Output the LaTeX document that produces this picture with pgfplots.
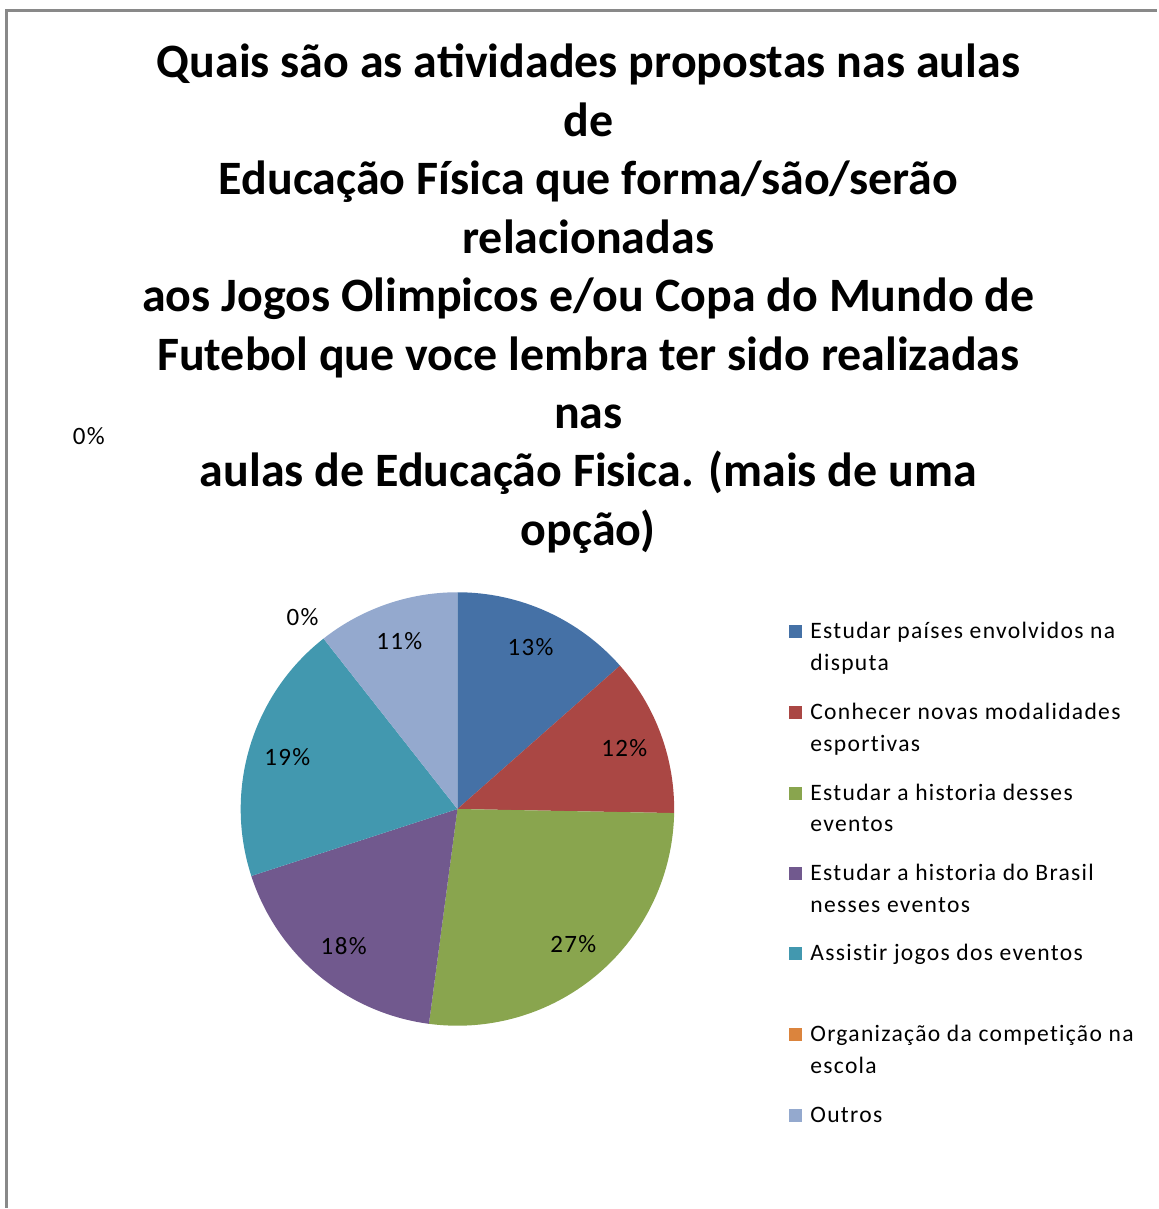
\documentclass[border=0pt]{standalone}
\usepackage{pgfplots}
\pgfplotsset{compat=1.18}
\usepackage{pgfplotstable}
\usepackage{fontspec}
\setmainfont{Carlito}
\newfontfamily\spaced[LetterSpace=5.5, Ligatures=NoCommon]{Carlito}

\definecolor{c0}{HTML}{4571A6}
\definecolor{c1}{HTML}{AA4744}
\definecolor{c2}{HTML}{89A54E}
\definecolor{c3}{HTML}{71598E}
\definecolor{c4}{HTML}{4298AF}
\definecolor{c5}{HTML}{DB843D}
\definecolor{c6}{HTML}{94A9CE}
\definecolor{framegray}{HTML}{898989}

% share in percent and printed label
\pgfplotstableread{
share label
13.5 13
11.8 12
26.8 27
17.9 18
19.4 19
0.0  0
10.6 11
}\piedata

\newcommand\titlefont{\fontsize{24}{29}\selectfont\bfseries}
\newcommand\legfont{\spaced\fontsize{11.8}{14}\selectfont}
\newcommand\pielab{\spaced\fontsize{12.5}{14}\selectfont}

% y in pixels from the top
\newcommand\tline[2]{\node[anchor=base, font=\titlefont, inner sep=0pt] at (axis cs:589,{1209-#1}) {#2};}
\newcommand\legitem[4]{%
  \fill[#2] (axis cs:790,{1209-#1-6.5}) rectangle (axis cs:803,{1209-#1+6.5});
  \node[anchor=base west, font=\legfont, inner sep=0pt] at (axis cs:811,{1209-#1-7}) {#3};
  \node[anchor=base west, font=\legfont, inner sep=0pt] at (axis cs:811,{1209-#1-39}) {#4};
}

\begin{document}
\begin{tikzpicture}
\begin{axis}[
  x=0.5pt, y=0.5pt,
  xmin=0, xmax=1158, ymin=0, ymax=1209,
  hide axis, clip=false,
]
\path (axis cs:0,0) rectangle (axis cs:1158,1209);
\draw[framegray, line width=1.5pt] (axis cs:7,0) -- (axis cs:7,1198) -- (axis cs:1158,1198);

% title
\tline{78}{Quais são as atividades propostas nas aulas}
\tline{136.5}{de}
\tline{195}{Educação Física que forma/são/serão}
\tline{253.5}{relacionadas}
\tline{312}{aos Jogos Olimpicos e/ou Copa do Mundo de}
\tline{370.5}{Futebol que voce lembra ter sido realizadas}
\tline{429}{nas}
\tline{487.5}{aulas de Educação Fisica. (mais de uma}
\tline{546}{opção)}

% pie, clockwise from the top
\def\cum{0}
\pgfplotsforeachungrouped \i in {0,...,6}{%
  \pgfplotstablegetelem{\i}{share}\of\piedata
  \let\share\pgfplotsretval
  \pgfplotstablegetelem{\i}{label}\of\piedata
  \let\lab\pgfplotsretval
  \pgfmathsetmacro\sa{90-3.6*\cum}
  \pgfmathsetmacro\ea{90-3.6*(\cum+\share)}
  \pgfmathsetmacro\ma{(\sa+\ea)/2}
  \pgfmathsetmacro\cum{\cum+\share}
  \ifdim\share pt>0pt
    \edef\cmd{%
      \noexpand\fill[c\i] (axis cs:458,399) -- ++(\sa:108.5pt)
        arc[start angle=\sa, end angle=\ea, radius=108.5pt] -- cycle;
      \noexpand\path (axis cs:458,399) ++(\ma:89pt)
        node[font=\noexpand\pielab] {\lab\noexpand\%};}
    \cmd
  \fi
}
\node[font=\pielab] at (axis cs:303,{1209-618}) {0\%};
\node[font=\pielab] at (axis cs:89,{1209-437}) {0\%};

% legend
\legitem{632}{c0}{Estudar países envolvidos na}{disputa}
\legitem{713}{c1}{Conhecer novas modalidades}{esportivas}
\legitem{794}{c2}{Estudar a historia desses}{eventos}
\legitem{875}{c3}{Estudar a historia do Brasil}{nesses eventos}
\legitem{955}{c4}{Assistir jogos dos eventos}{}
\legitem{1036}{c5}{Organização da competição na}{escola}
\legitem{1117}{c6}{Outros}{}
\end{axis}
\end{tikzpicture}
\end{document}
